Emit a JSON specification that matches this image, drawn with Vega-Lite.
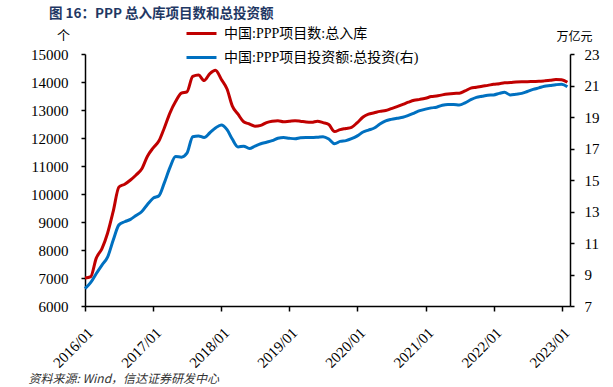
{
  "$schema": "https://vega.github.io/schema/vega-lite/v6.json",
  "width": 485,
  "height": 252,
  "autosize": {"type": "none"},
  "padding": {"left": 85, "top": 54, "right": 43, "bottom": 81},
  "background": "white",
  "config": {
    "view": {"stroke": null}
  },
  "title": {
    "text": "图 16：PPP 总入库项目数和总投资额",
    "anchor": "start",
    "frame": "group",
    "dx": -36,
    "dy": 13,
    "font": "Noto Sans CJK SC",
    "fontWeight": "bold",
    "fontSize": 13.5,
    "color": "#1F3864",
    "offset": 10
  },
  "data": {"values": [
    {"date": "2016-01-01", "count": 7000, "invest": 8.1},
    {"date": "2016-02-01", "count": 7050, "invest": 8.5},
    {"date": "2016-03-01", "count": 7700, "invest": 9.05},
    {"date": "2016-04-01", "count": 8050, "invest": 9.6},
    {"date": "2016-05-01", "count": 8600, "invest": 10.1},
    {"date": "2016-06-01", "count": 9400, "invest": 11.2},
    {"date": "2016-07-01", "count": 10250, "invest": 12.15},
    {"date": "2016-08-01", "count": 10350, "invest": 12.35},
    {"date": "2016-09-01", "count": 10500, "invest": 12.5},
    {"date": "2016-10-01", "count": 10680, "invest": 12.75},
    {"date": "2016-11-01", "count": 10900, "invest": 13.0},
    {"date": "2016-12-01", "count": 11350, "invest": 13.45},
    {"date": "2017-01-01", "count": 11650, "invest": 13.85},
    {"date": "2017-02-01", "count": 11900, "invest": 14.0},
    {"date": "2017-03-01", "count": 12350, "invest": 14.8},
    {"date": "2017-04-01", "count": 12900, "invest": 15.8},
    {"date": "2017-05-01", "count": 13300, "invest": 16.5},
    {"date": "2017-06-01", "count": 13600, "invest": 16.45},
    {"date": "2017-07-01", "count": 13650, "invest": 16.7},
    {"date": "2017-08-01", "count": 14200, "invest": 17.75},
    {"date": "2017-09-01", "count": 14250, "invest": 17.8},
    {"date": "2017-10-01", "count": 14050, "invest": 17.7},
    {"date": "2017-11-01", "count": 14300, "invest": 18.0},
    {"date": "2017-12-01", "count": 14420, "invest": 18.3},
    {"date": "2018-01-01", "count": 14100, "invest": 18.5},
    {"date": "2018-02-01", "count": 13750, "invest": 18.2},
    {"date": "2018-03-01", "count": 13150, "invest": 17.6},
    {"date": "2018-04-01", "count": 12850, "invest": 17.1},
    {"date": "2018-05-01", "count": 12580, "invest": 17.15},
    {"date": "2018-06-01", "count": 12500, "invest": 17.0},
    {"date": "2018-07-01", "count": 12420, "invest": 17.15},
    {"date": "2018-08-01", "count": 12450, "invest": 17.3},
    {"date": "2018-09-01", "count": 12550, "invest": 17.4},
    {"date": "2018-10-01", "count": 12600, "invest": 17.5},
    {"date": "2018-11-01", "count": 12620, "invest": 17.65},
    {"date": "2018-12-01", "count": 12580, "invest": 17.7},
    {"date": "2019-01-01", "count": 12600, "invest": 17.65},
    {"date": "2019-02-01", "count": 12620, "invest": 17.62},
    {"date": "2019-03-01", "count": 12600, "invest": 17.68},
    {"date": "2019-04-01", "count": 12570, "invest": 17.7},
    {"date": "2019-05-01", "count": 12560, "invest": 17.7},
    {"date": "2019-06-01", "count": 12600, "invest": 17.72},
    {"date": "2019-07-01", "count": 12550, "invest": 17.75},
    {"date": "2019-08-01", "count": 12480, "invest": 17.6},
    {"date": "2019-09-01", "count": 12230, "invest": 17.3},
    {"date": "2019-10-01", "count": 12300, "invest": 17.45},
    {"date": "2019-11-01", "count": 12340, "invest": 17.5},
    {"date": "2019-12-01", "count": 12380, "invest": 17.62},
    {"date": "2020-01-01", "count": 12550, "invest": 17.8},
    {"date": "2020-02-01", "count": 12750, "invest": 18.05},
    {"date": "2020-03-01", "count": 12850, "invest": 18.17},
    {"date": "2020-04-01", "count": 12900, "invest": 18.3},
    {"date": "2020-05-01", "count": 12950, "invest": 18.55},
    {"date": "2020-06-01", "count": 12980, "invest": 18.75},
    {"date": "2020-07-01", "count": 13050, "invest": 18.85},
    {"date": "2020-08-01", "count": 13120, "invest": 18.92},
    {"date": "2020-09-01", "count": 13200, "invest": 18.98},
    {"date": "2020-10-01", "count": 13280, "invest": 19.1},
    {"date": "2020-11-01", "count": 13350, "invest": 19.25},
    {"date": "2020-12-01", "count": 13380, "invest": 19.4},
    {"date": "2021-01-01", "count": 13420, "invest": 19.5},
    {"date": "2021-02-01", "count": 13480, "invest": 19.58},
    {"date": "2021-03-01", "count": 13500, "invest": 19.62},
    {"date": "2021-04-01", "count": 13540, "invest": 19.75},
    {"date": "2021-05-01", "count": 13570, "invest": 19.8},
    {"date": "2021-06-01", "count": 13590, "invest": 19.8},
    {"date": "2021-07-01", "count": 13600, "invest": 19.76},
    {"date": "2021-08-01", "count": 13680, "invest": 19.9},
    {"date": "2021-09-01", "count": 13780, "invest": 20.1},
    {"date": "2021-10-01", "count": 13810, "invest": 20.25},
    {"date": "2021-11-01", "count": 13850, "invest": 20.32},
    {"date": "2021-12-01", "count": 13880, "invest": 20.38},
    {"date": "2022-01-01", "count": 13920, "invest": 20.4},
    {"date": "2022-02-01", "count": 13940, "invest": 20.5},
    {"date": "2022-03-01", "count": 13970, "invest": 20.57},
    {"date": "2022-04-01", "count": 13980, "invest": 20.4},
    {"date": "2022-05-01", "count": 14000, "invest": 20.45},
    {"date": "2022-06-01", "count": 14010, "invest": 20.5},
    {"date": "2022-07-01", "count": 14010, "invest": 20.62},
    {"date": "2022-08-01", "count": 14020, "invest": 20.75},
    {"date": "2022-09-01", "count": 14025, "invest": 20.85},
    {"date": "2022-10-01", "count": 14040, "invest": 20.95},
    {"date": "2022-11-01", "count": 14060, "invest": 21.0},
    {"date": "2022-12-01", "count": 14090, "invest": 21.05},
    {"date": "2023-01-01", "count": 14080, "invest": 21.08},
    {"date": "2023-02-01", "count": 13990, "invest": 20.92}
  ]},
  "layer": [
    {
      "mark": {"type": "line", "strokeWidth": 3, "interpolate": "monotone"},
      "encoding": {
        "x": {
          "field": "date",
          "type": "temporal",
          "scale": {"type": "utc", "domain": [{"year": 2016, "month": 1, "date": 1, "utc": true}, {"year": 2023, "month": 2, "date": 15, "utc": true}]},
          "axis": {
            "values": [
              {"year": 2016, "month": 1, "date": 1, "utc": true},
              {"year": 2017, "month": 1, "date": 1, "utc": true},
              {"year": 2018, "month": 1, "date": 1, "utc": true},
              {"year": 2019, "month": 1, "date": 1, "utc": true},
              {"year": 2020, "month": 1, "date": 1, "utc": true},
              {"year": 2021, "month": 1, "date": 1, "utc": true},
              {"year": 2022, "month": 1, "date": 1, "utc": true},
              {"year": 2023, "month": 1, "date": 1, "utc": true}
            ],
            "labelExpr": "utcFormat(datum.value, '%Y/%m')",
            "labelAngle": 315,
            "labelAlign": "right",
            "labelBaseline": "top",
            "labelPadding": 14,
            "labelFlush": false,
            "labelOverlap": false,
            "labelFont": "Liberation Serif",
            "labelFontSize": 15,
            "labelColor": "black",
            "domainColor": "black",
            "domainWidth": 1.5,
            "tickColor": "black",
            "tickWidth": 1.5,
            "tickSize": 5,
            "grid": false,
            "title": "资料来源: Wind，信达证券研发中心",
            "titleFont": "Noto Sans CJK SC",
            "titleFontSize": 12,
            "titleFontWeight": "normal",
            "titleFontStyle": "italic",
            "titleColor": "#333333",
            "titleAnchor": "start",
            "titleAlign": "left",
            "titleBaseline": "middle",
            "titleX": -57,
            "titleY": 72
          }
        },
        "y": {
          "field": "count",
          "type": "quantitative",
          "scale": {"domain": [6000, 15000], "nice": false, "zero": false},
          "axis": {
            "values": [6000, 7000, 8000, 9000, 10000, 11000, 12000, 13000, 14000, 15000],
            "format": "d",
            "labelFont": "Liberation Serif",
            "labelFontSize": 15,
            "labelColor": "black",
            "domainColor": "black",
            "domainWidth": 1.5,
            "tickColor": "black",
            "tickWidth": 1.5,
            "tickSize": 4,
            "grid": false,
            "labelPadding": 13,
            "title": "个",
            "titleAngle": 0,
            "titleFont": "Noto Sans CJK SC",
            "titleFontSize": 13,
            "titleFontWeight": "normal",
            "titleColor": "black",
            "titleAlign": "center",
            "titleBaseline": "middle",
            "titleX": -22,
            "titleY": -19
          }
        },
        "color": {
          "datum": "中国:PPP项目数:总入库",
          "scale": {"domain": ["中国:PPP项目数:总入库", "中国:PPP项目投资额:总投资(右)"], "range": ["#C00000", "#0070C0"]},
          "legend": {
            "orient": "none",
            "legendX": 100,
            "legendY": -37,
            "title": null,
            "symbolType": "stroke",
            "symbolSize": 900,
            "symbolStrokeWidth": 3,
            "labelFont": "Liberation Serif, Noto Sans CJK SC",
            "labelFontSize": 14,
            "labelColor": "black",
            "labelLimit": 400,
            "rowPadding": 0,
            "labelOffset": 6
          }
        }
      }
    },
    {
      "mark": {"type": "line", "strokeWidth": 3, "interpolate": "monotone"},
      "encoding": {
        "x": {"field": "date", "type": "temporal"},
        "y": {
          "field": "invest",
          "type": "quantitative",
          "scale": {"domain": [7, 23], "nice": false, "zero": false},
          "axis": {
            "orient": "right",
            "values": [7, 9, 11, 13, 15, 17, 19, 21, 23],
            "labelFont": "Liberation Serif",
            "labelFontSize": 15,
            "labelColor": "black",
            "domainColor": "black",
            "domainWidth": 1.5,
            "tickColor": "black",
            "tickWidth": 1.5,
            "tickSize": 4,
            "grid": false,
            "labelPadding": 10,
            "title": "万亿元",
            "titleAngle": 0,
            "titleFont": "Noto Sans CJK SC",
            "titleFontSize": 12,
            "titleFontWeight": "normal",
            "titleColor": "black",
            "titleAlign": "center",
            "titleBaseline": "middle",
            "titleX": 4,
            "titleY": -18
          }
        },
        "color": {"datum": "中国:PPP项目投资额:总投资(右)"}
      }
    }
  ],
  "resolve": {"scale": {"y": "independent"}}
}
